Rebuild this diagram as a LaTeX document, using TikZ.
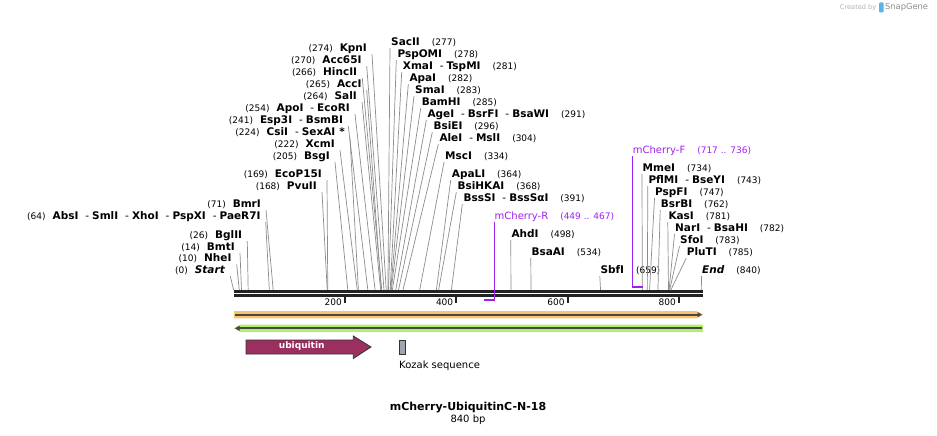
\documentclass[tikz,border=0pt]{standalone}
\usepackage{fontspec}
\setmainfont{DejaVu Sans}
\usepackage{xcolor}
\usepackage{tikz}
\usetikzlibrary{arrows.meta}

\definecolor{primer}{RGB}{160,32,240}
\definecolor{ubqcol}{RGB}{155,48,96}
\definecolor{orangeband}{RGB}{250,195,110}
\definecolor{greenband}{RGB}{180,238,112}
\definecolor{backbone}{RGB}{34,34,34}
\definecolor{leadgray}{RGB}{140,140,140}
\definecolor{kozakgray}{RGB}{160,164,172}
\definecolor{logoblue}{RGB}{90,180,232}

\newcommand{\nmfont}{\fontsize{10.5}{12}\selectfont\bfseries}
\newcommand{\numfont}{\fontsize{9}{11}\selectfont\mdseries}
\newcommand{\lnum}[1]{{\numfont(#1)}\hspace{7pt}}
\newcommand{\rnum}[1]{\hspace{12pt}{\numfont(#1)}}
\newcommand{\sitesep}{\hspace{7pt}{\mdseries-}\hspace{3pt}}
\newcommand{\bpx}[1]{233.7+0.5567*#1}

\tikzset{
  lsite/.style={anchor=base east, inner sep=0pt, text depth=2.5pt, font=\nmfont},
  rsite/.style={anchor=base west, inner sep=0pt, text depth=2.5pt, font=\nmfont},
  primerlab/.style={anchor=base west, inner sep=0pt, text depth=2.5pt, text=primer, font=\fontsize{10}{12}\selectfont},
  leader/.style={draw=leadgray, line width=0.7pt},
  primerline/.style={draw=primer, line width=1.4pt},
  spine/.style={draw=backbone, line width=2.8pt},
  scaletick/.style={draw=backbone, line width=1.8pt},
  featline/.style={draw=black!72, line width=1.8pt},
}

\begin{document}
\begin{tikzpicture}[x=1pt, y=-1pt]
  \useasboundingbox (0,0) rectangle (937,436);
  \fill[white] (0,0) rectangle (937,436);

  % cut sites on the sequence
  \foreach \p in {0,10,14,26,64,71,168,169,205,222,224,241,254,264,265,266,270,274,277,278,281,282,283,285,291,296,304,334,364,368,391,498,534,659,734,743,747,762,781,782,783,785,840}
    \coordinate (s\p) at ({\bpx{\p}},290.2);
  \coordinate (fend) at ({\bpx{736}},287);
  \coordinate (rend) at ({\bpx{449}},300);

  % enzymes left of their site
  \node[lsite] (startlab) at (225.3,273.5) {\lnum{0}\textit{Start}};
  \node[lsite] (nhe) at (231.7,261.8) {\lnum{10}NheI};
  \node[lsite] (bmt) at (235,250.2) {\lnum{14}BmtI};
  \node[lsite] (bgl) at (242.3,238.5) {\lnum{26}BglII};
  \node[lsite] (abs) at (260.7,219.5) {\lnum{64}AbsI\sitesep SmlI\sitesep XhoI\sitesep PspXI\sitesep PaeR7I};
  \node[lsite] (bmr) at (261,207.5) {\lnum{71}BmrI};
  \node[lsite] (pvu) at (317,189.5) {\lnum{168}PvuII};
  \node[lsite] (ecop) at (322,177.5) {\lnum{169}EcoP15I};
  \node[lsite] (bsg) at (330,159.5) {\lnum{205}BsgI};
  \node[lsite] (xcm) at (335,147.5) {\lnum{222}XcmI};
  \node[lsite] (csi) at (345,135.5) {\lnum{224}CsiI\sitesep SexAI\hspace{4pt}*};
  \node[lsite] (esp) at (343.3,123.5) {\lnum{241}Esp3I\sitesep BsmBI};
  \node[lsite] (apo) at (350,111.5) {\lnum{254}ApoI\sitesep EcoRI};
  \node[lsite] (sal) at (357,99.5) {\lnum{264}SalI};
  \node[lsite] (acc) at (361.7,87.5) {\lnum{265}AccI};
  \node[lsite] (hinc) at (357.3,75.5) {\lnum{266}HincII};
  \node[lsite] (acc65) at (361.7,63.5) {\lnum{270}Acc65I};
  \node[lsite] (kpn) at (367,51.5) {\lnum{274}KpnI};

  % enzymes right of their site
  \node[rsite] (sac) at (391,45.5) {SacII\rnum{277}};
  \node[rsite] (pspo) at (397.3,57.5) {PspOMI\rnum{278}};
  \node[rsite] (xma) at (402.7,69.5) {XmaI\sitesep TspMI\rnum{281}};
  \node[rsite] (apa) at (409.3,81.5) {ApaI\rnum{282}};
  \node[rsite] (sma) at (415,93.5) {SmaI\rnum{283}};
  \node[rsite] (bam) at (421.7,105.5) {BamHI\rnum{285}};
  \node[rsite] (age) at (427.3,117.5) {AgeI\sitesep BsrFI\sitesep BsaWI\rnum{291}};
  \node[rsite] (bsie) at (433.3,129.5) {BsiEI\rnum{296}};
  \node[rsite] (ale) at (439.3,141.5) {AleI\sitesep MslI\rnum{304}};
  \node[rsite] (msc) at (445,159.5) {MscI\rnum{334}};
  \node[rsite] (apal) at (451.7,177.5) {ApaLI\rnum{364}};
  \node[rsite] (bsih) at (457.3,189.5) {BsiHKAI\rnum{368}};
  \node[rsite] (bsss) at (463.3,201.5) {BssSI\sitesep BssSαI\rnum{391}};
  \node[rsite] (ahd) at (511.3,237.5) {AhdI\rnum{498}};
  \node[rsite] (bsaa) at (531.3,255.5) {BsaAI\rnum{534}};
  \node[rsite] (sbf) at (600.3,273.5) {SbfI\rnum{659}};
  \node[rsite] (endlab) at (702,273.5) {\textit{End}\rnum{840}};
  \node[rsite] (mme) at (642.5,171.5) {MmeI\rnum{734}};
  \node[rsite] (pfl) at (648.3,183.5) {PflMI\sitesep BseYI\rnum{743}};
  \node[rsite] (pspf) at (655,195.5) {PspFI\rnum{747}};
  \node[rsite] (bsrb) at (660.7,207.5) {BsrBI\rnum{762}};
  \node[rsite] (kas) at (668.3,219.5) {KasI\rnum{781}};
  \node[rsite] (nar) at (675,231.5) {NarI\sitesep BsaHI\rnum{782}};
  \node[rsite] (sfo) at (680,243.5) {SfoI\rnum{783}};
  \node[rsite] (plu) at (686.7,255.5) {PluTI\rnum{785}};

  % primers
  \node[primerlab] (mcr) at (494.5,219.5) {mCherry-R\hspace{12pt}{\fontsize{9}{11}\selectfont(449 .. 467)}};
  \node[primerlab] (mcf) at (632.7,153.5) {mCherry-F\hspace{12pt}{\fontsize{9}{11}\selectfont(717 .. 736)}};

  \draw[leader] ([xshift=5pt]startlab.south east) -- (s0);
  \draw[leader] ([xshift=5pt]nhe.south east) -- (s10);
  \draw[leader] ([xshift=5pt]bmt.south east) -- (s14);
  \draw[leader] ([xshift=5pt]bgl.south east) -- (s26);
  \draw[leader] ([xshift=5pt]abs.south east) -- (s64);
  \draw[leader] ([xshift=5pt]bmr.south east) -- (s71);
  \draw[leader] ([xshift=5pt]pvu.south east) -- (s168);
  \draw[leader] ([xshift=5pt]ecop.south east) -- (s169);
  \draw[leader] ([xshift=5pt]bsg.south east) -- (s205);
  \draw[leader] ([xshift=5pt]xcm.south east) -- (s222);
  \draw[leader] ([xshift=5pt]csi.south east) -- (s224);
  \draw[leader] ([xshift=5pt]esp.south east) -- (s241);
  \draw[leader] ([xshift=5pt]apo.south east) -- (s254);
  \draw[leader] ([xshift=5pt]sal.south east) -- (s264);
  \draw[leader] ([xshift=5pt]acc.south east) -- (s265);
  \draw[leader] ([xshift=5pt]hinc.south east) -- (s266);
  \draw[leader] ([xshift=5pt]acc65.south east) -- (s270);
  \draw[leader] ([xshift=5pt]kpn.south east) -- (s274);
  \draw[leader] ([xshift=-1pt]sac.south west) -- (s277);
  \draw[leader] ([xshift=-1pt]pspo.south west) -- (s278);
  \draw[leader] ([xshift=-1pt]xma.south west) -- (s281);
  \draw[leader] ([xshift=-1pt]apa.south west) -- (s282);
  \draw[leader] ([xshift=-1pt]sma.south west) -- (s283);
  \draw[leader] ([xshift=-1pt]bam.south west) -- (s285);
  \draw[leader] ([xshift=-1pt]age.south west) -- (s291);
  \draw[leader] ([xshift=-1pt]bsie.south west) -- (s296);
  \draw[leader] ([xshift=-1pt]ale.south west) -- (s304);
  \draw[leader] ([xshift=-1pt]msc.south west) -- (s334);
  \draw[leader] ([xshift=-1pt]apal.south west) -- (s364);
  \draw[leader] ([xshift=-1pt]bsih.south west) -- (s368);
  \draw[leader] ([xshift=-1pt]bsss.south west) -- (s391);
  \draw[leader] ([xshift=-0.5pt]ahd.south west) -- (s498);
  \draw[leader] ([xshift=-0.5pt]bsaa.south west) -- (s534);
  \draw[leader] ([xshift=-0.5pt]sbf.south west) -- (s659);
  \draw[leader] ([xshift=-0.5pt]endlab.south west) -- (s840);
  \draw[leader] ([xshift=-0.5pt]mme.south west) -- (s734);
  \draw[leader] ([xshift=-0.5pt]pfl.south west) -- (s743);
  \draw[leader] ([xshift=-0.5pt]pspf.south west) -- (s747);
  \draw[leader] ([xshift=-0.5pt]bsrb.south west) -- (s762);
  \draw[leader] ([xshift=-0.5pt]kas.south west) -- (s781);
  \draw[leader] ([xshift=-0.5pt]nar.south west) -- (s782);
  \draw[leader] ([xshift=-0.5pt]sfo.south west) -- (s783);
  \draw[leader] ([xshift=-0.5pt]plu.south west) -- (s785);

  % sequence line and scale
  \draw[spine] (234,291.6) -- (702.5,291.6);
  \draw[spine] (234,295.6) -- (702.5,295.6);
  \foreach \t in {200,400,600,800} {
    \draw[scaletick] ({\bpx{\t}},296.5) -- ({\bpx{\t}},303);
    \node[anchor=east, inner sep=0pt, font=\numfont] (tick\t) at ({\bpx{\t}-3},302.5) {\t};
  }

  \draw[primerline] ([xshift=-0.3pt]mcf.south west) |- (fend);
  \draw[primerline] ([xshift=-0.3pt]mcr.south west) |- (rend);

  % features
  \fill[orangeband] (234,311) -- (696,311) -- (703.5,314.7) -- (696,318.4) -- (234,318.4) -- cycle;
  \draw[featline, -{Triangle[length=4.5pt, width=5pt]}] (235,314.7) -- (702,314.7);
  \fill[greenband] (703,324.6) -- (241,324.6) -- (233.5,328.3) -- (241,332) -- (703,332) -- cycle;
  \draw[featline, -{Triangle[length=4.5pt, width=5pt]}] (702,328.3) -- (235,328.3);

  \draw[fill=ubqcol, draw=black!80, line width=0.8pt] (246,340) -- (353.3,340) -- (353.3,336) -- (371,347) -- (353.3,358.5) -- (353.3,354) -- (246,354) -- cycle;
  \node[text=white, font=\fontsize{9}{10}\selectfont\bfseries] (ubq) at (301.7,346.5) {ubiquitin};

  \node[draw=black!80, fill=kozakgray, line width=0.8pt, minimum width=6pt, minimum height=14pt, inner sep=0pt] (kozak) at (402.3,347) {};
  \node[anchor=west, inner sep=0pt, font=\fontsize{10}{12}\selectfont] (kozaklab) at (399,366) {Kozak sequence};

  % title
  \node[font=\fontsize{11}{13}\selectfont\bfseries] (title) at (468,407.5) {mCherry-UbiquitinC-N-18};
  \node[font=\fontsize{10}{12}\selectfont] (len) at (468,420) {840 bp};

  % credit
  \node[anchor=east, inner sep=0pt, text=black!30, font=\fontsize{6.6}{8}\selectfont] (credit) at (876.5,7.5) {Created by};
  \fill[logoblue, rounded corners=1pt] (879,2.5) rectangle (883.5,12.5);
  \node[anchor=west, inner sep=0pt, text=black!45, font=\fontsize{8.3}{10}\selectfont] (brand) at (885,7.5) {SnapGene};
\end{tikzpicture}
\end{document}
